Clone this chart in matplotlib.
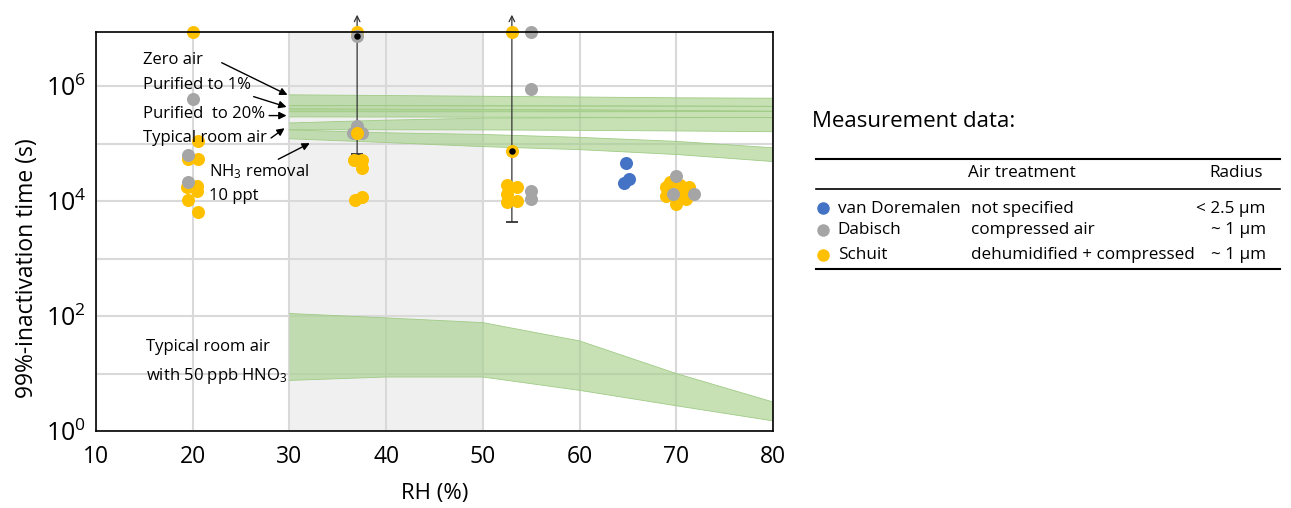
import matplotlib
matplotlib.use("Agg")
import matplotlib.pyplot as plt
from matplotlib.lines import Line2D
import numpy as np

FONT = "Open Sans"
plt.rcParams['font.family'] = [FONT, 'DejaVu Sans']
plt.rcParams['mathtext.fontset'] = 'custom'
plt.rcParams['mathtext.rm'] = FONT
plt.rcParams['mathtext.it'] = FONT
plt.rcParams['mathtext.bf'] = FONT

# ---------------- data ----------------
TOP = 8.7e6      # values beyond the axis are shown on the top edge
ARROW_TIP = 1.76e7

band_rh = [30, 40, 50, 60, 70, 80]
zero_hi = [7.1e5, 6.9e5, 6.7e5, 6.5e5, 6.3e5, 6.2e5]
zero_lo = [4.6e5, 4.6e5, 4.57e5, 4.54e5, 4.52e5, 4.47e5]
pur1_hi = [4.6e5, 4.6e5, 4.57e5, 4.54e5, 4.52e5, 4.47e5]
pur1_lo = [3.6e5, 3.6e5, 3.6e5, 3.6e5, 3.62e5, 3.65e5]
pur20_hi = [4.07e5, 4.0e5, 3.95e5, 3.9e5, 3.8e5, 3.7e5]
pur20_lo = [2.93e5, 2.92e5, 2.9e5, 2.88e5, 2.86e5, 2.85e5]
room_hi = [2.30e5, 2.57e5, 2.79e5, 2.83e5, 2.85e5, 2.87e5]
room_lo = [1.76e5, 1.75e5, 1.74e5, 1.71e5, 1.67e5, 1.62e5]
nh3_hi = [1.74e5, 1.55e5, 1.45e5, 1.29e5, 1.10e5, 8.5e4]
nh3_lo = [1.22e5, 1.05e5, 8.9e4, 7.9e4, 6.5e4, 4.9e4]
hno3_hi = [111, 93, 77, 37, 10, 3.2]
hno3_lo = [7.6, 8.7, 8.7, 5.1, 2.75, 1.5]

vd_rh = [64.8, 65.1, 64.6]
vd_t = [4.68e4, 2.45e4, 2.04e4]

dab_rh = [20.0, 19.55, 19.55, 37.0, 37.0, 36.6, 37.5, 55.0, 55.0, 55.0, 55.0, 70.0, 69.66, 71.8]
dab_t = [6.0e5, 6.3e4, 2.19e4, 7.5e6, 2.07e5, 1.55e5, 1.55e5, TOP, 9.1e5, 1.51e4, 1.11e4, 2.75e4, 1.32e4, 1.32e4]

sch_rh = [20.0, 20.55, 19.55, 20.5, 20.48, 19.45, 20.48, 19.55, 20.55,
          36.95, 36.7, 37.5, 37.5, 36.8, 37.5,
          53.0, 52.45, 53.5, 52.45, 52.45, 53.5,
          69.4, 70.4, 71.3, 68.97, 68.97, 70.0, 71.0, 70.5]
sch_t = [TOP, 1.135e5, 5.4e4, 5.4e4, 1.82e4, 1.74e4, 1.51e4, 1.05e4, 6.5e3,
         TOP, 5.13e4, 5.13e4, 3.8e4, 1.04e4, 1.17e4,
         TOP, 1.95e4, 1.74e4, 1.32e4, 9.8e3, 1.0e4,
         2.14e4, 1.95e4, 1.74e4, 1.74e4, 1.23e4, 9.1e3, 1.11e4, 1.38e4]
sch_front_rh = [36.98, 53.0]
sch_front_t = [1.51e5, 7.6e4]

mean_rh = [37.0, 53.0]
mean_t = [7.5e6, 7.6e4]
err_lo = [6.6e4, 4.4e3]

C_BLUE = '#4472c4'
C_GRAY = '#a5a5a5'
C_YEL = '#ffc000'
C_BAND = '#a9d18e'

# ---------------- figure ----------------
W, H = 1291, 508
fig = plt.figure(figsize=(W / 100, H / 100), dpi=100)
ax = fig.add_axes([96 / W, 1 - 431 / H, 677 / W, (431 - 32.3) / H])

ax.set_yscale('log')
ax.set_xlim(10, 80)
ax.set_ylim(1, TOP)

ax.axvspan(30, 50, color='#f0f0f0', zorder=0.2, lw=0)
ax.set_xticks([10, 20, 30, 40, 50, 60, 70, 80])
ax.set_yticks([1, 1e2, 1e4, 1e6])
ax.set_yticklabels([r'$\mathregular{10^{0}}$', r'$\mathregular{10^{2}}$',
                    r'$\mathregular{10^{4}}$', r'$\mathregular{10^{6}}$'])
ax.set_yticks([10, 1e3, 1e5], minor=True)
ax.yaxis.set_minor_formatter(matplotlib.ticker.NullFormatter())
ax.tick_params(which='both', length=0)
ax.tick_params(axis='x', labelsize=16.5, pad=10)
ax.tick_params(axis='y', labelsize=18, pad=7)
ax.grid(True, which='both', color='#d9d9d9', lw=1.5)
ax.set_axisbelow(True)
for s in ax.spines.values():
    s.set_color('black')
    s.set_linewidth(1.2)
    s.set_zorder(6)

for hi, lo in [(zero_hi, zero_lo), (pur1_hi, pur1_lo), (pur20_hi, pur20_lo),
               (room_hi, room_lo), (nh3_hi, nh3_lo), (hno3_hi, hno3_lo)]:
    ax.fill_between(band_rh, lo, hi, facecolor=C_BAND, alpha=0.65, lw=0, zorder=2)
    ax.plot(band_rh, hi, color='#9fcb85', lw=0.6, zorder=2.1)
    ax.plot(band_rh, lo, color='#9fcb85', lw=0.6, zorder=2.1)

# error bars with upward arrows
for x, lo in zip(mean_rh, err_lo):
    ax.annotate('', xy=(x, ARROW_TIP), xytext=(x, lo),
                arrowprops=dict(arrowstyle='->', lw=0.9, color='#333333',
                                shrinkA=0, shrinkB=0, mutation_scale=10),
                annotation_clip=False, zorder=3)
    ax.plot([x], [lo], marker='_', ms=9, mew=1.3, color='#333333', zorder=3)

ms = 88
ax.scatter(sch_rh, sch_t, s=ms, color=C_YEL, lw=0, zorder=4, clip_on=False)
ax.scatter(dab_rh, dab_t, s=ms, color=C_GRAY, lw=0, zorder=4.5, clip_on=False)
ax.scatter(vd_rh, vd_t, s=ms, color=C_BLUE, lw=0, zorder=4.5, clip_on=False)
ax.scatter(sch_front_rh, sch_front_t, s=ms, color=C_YEL, lw=0, zorder=5, clip_on=False)
ax.scatter(mean_rh, mean_t, s=22, color='black', lw=0, zorder=5.5, clip_on=False)

# annotations
afs = 12
arrow_kw = dict(arrowstyle='-|>', color='black', lw=1.0, mutation_scale=11,
                shrinkA=0, shrinkB=0)
ax.text(14.86, 10**6.46, 'Zero air', fontsize=afs, va='center', zorder=7)
ax.text(14.86, 10**6.03, 'Purified to 1%', fontsize=afs, va='center', zorder=7)
ax.text(14.86, 10**5.52, 'Purified  to 20%', fontsize=afs, va='center', zorder=7)
ax.text(14.86, 10**5.10, 'Typical room air', fontsize=afs, va='center', zorder=7)
ax.text(21.7, 10**4.52, r'NH$_3$ removal', fontsize=afs, va='center', zorder=7)
ax.text(21.7, 10**4.09, '10 ppt', fontsize=afs, va='center', zorder=7)
ax.text(15.2, 10**1.46, 'Typical room air', fontsize=afs, va='center', zorder=7)
ax.text(15.2, 10**0.96, r'with 50 ppb HNO$_3$', fontsize=afs, va='center', zorder=7)

ax.annotate('', xy=(29.8, 10**5.85), xytext=(23.0, 10**6.41), arrowprops=arrow_kw, zorder=7)
ax.annotate('', xy=(29.7, 10**5.64), xytext=(26.3, 10**5.82), arrowprops=arrow_kw, zorder=7)
ax.annotate('', xy=(29.7, 10**5.49), xytext=(27.9, 10**5.49), arrowprops=arrow_kw, zorder=7)
ax.annotate('', xy=(29.5, 10**5.27), xytext=(28.1, 10**5.10), arrowprops=arrow_kw, zorder=7)
ax.annotate('', xy=(32.1, 10**5.01), xytext=(28.85, 10**4.73), arrowprops=arrow_kw, zorder=7)

ax.set_xlabel('RH (%)', fontsize=16, labelpad=10)
ax.set_ylabel('99%-inactivation time (s)', fontsize=16.5)
ax.yaxis.set_label_coords((39 - 96) / 677, (431 - 268) / (431 - 32.3))

# ---------------- table on the right ----------------
def fx(px):
    return px / W

def fy(py):
    return 1 - py / H

fig.text(fx(812), fy(127.3), 'Measurement data:', fontsize=16, va='baseline')
for yy, lw in [(159.3, 1.5), (189.3, 1.2), (269.3, 1.5)]:
    fig.add_artist(Line2D([fx(816), fx(1280)], [fy(yy), fy(yy)], color='black', lw=lw))

tfs = 12.3
fig.text(fx(968), fy(177.3), 'Air treatment', fontsize=tfs, va='baseline')
fig.text(fx(1263), fy(177.3), 'Radius', fontsize=tfs, va='baseline', ha='right')

names = ['van Doremalen', 'Dabisch', 'Schuit']
treatments = ['not specified', 'compressed air', 'dehumidified + compressed']
radii = ['< 2.5 µm', '~ 1 µm', '~ 1 µm']
colors = [C_BLUE, C_GRAY, C_YEL]
row_base = [212.7, 234.3, 259.3]
for name, tr, rad, col, yb in zip(names, treatments, radii, colors, row_base):
    fig.add_artist(Line2D([fx(823)], [fy(yb - 4.5)], marker='o', ms=8, color=col, lw=0))
    fig.text(fx(837.7), fy(yb), name, fontsize=tfs, va='baseline')
    fig.text(fx(971), fy(yb), tr, fontsize=tfs, va='baseline')
    fig.text(fx(1266), fy(yb), rad, fontsize=tfs, va='baseline', ha='right')

fig.savefig('out.png', dpi=100)
